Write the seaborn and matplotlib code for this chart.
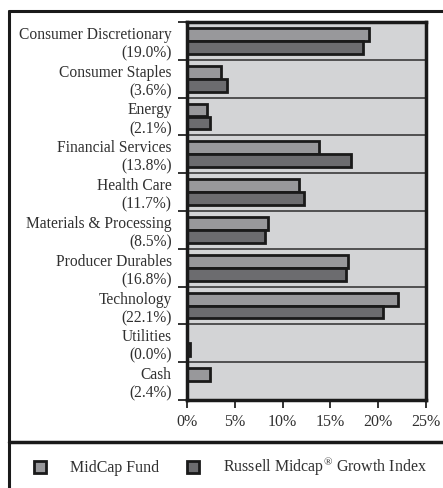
import matplotlib
matplotlib.use("Agg")
import matplotlib.pyplot as plt
from matplotlib.lines import Line2D
from matplotlib.patches import Patch
import seaborn as sns
import pandas as pd

sectors = ["Consumer Discretionary", "Consumer Staples", "Energy", "Financial Services",
           "Health Care", "Materials & Processing", "Producer Durables", "Technology",
           "Utilities", "Cash"]
fund = [19.0, 3.6, 2.1, 13.8, 11.7, 8.5, 16.8, 22.1, 0.0, 2.4]
index = [18.4, 4.2, 2.4, 17.2, 12.2, 8.2, 16.6, 20.5, 0.3, 0.0]
series = ["MidCap Fund", "Russell Midcap\u00ae Growth Index"]
xticks = [0, 5, 10, 15, 20, 25]

sns.set_theme(style="white")
plt.rcParams["font.family"] = ["Liberation Serif", "DejaVu Serif"]
plt.rcParams["mathtext.fontset"] = "custom"
plt.rcParams["mathtext.rm"] = "Liberation Serif"

df = pd.DataFrame({
    "sector": sectors * 2,
    "value": fund + index,
    "series": [series[0]] * len(sectors) + [series[1]] * len(sectors),
})

colors = {series[0]: "#98989b", series[1]: "#6c6c6f"}
text_color = "#303030"

W, H = 443, 488
fig = plt.figure(figsize=(W / 100, H / 100), dpi=100)
ax = fig.add_axes([187 / W, 1 - 400 / H, (426 - 187) / W, (400 - 22) / H])
ax.set_facecolor("#d3d4d6")

sns.barplot(data=df, y="sector", x="value", hue="series", orient="h",
            palette=colors, width=0.68, edgecolor="#1a1a1a", linewidth=2,
            ax=ax, legend=False, zorder=3)

n = len(sectors)
ax.set_xlim(0, 25)
ax.set_ylim(n - 0.5, -0.5)
ax.set_xticks(xticks)
ax.set_xticklabels([f"{t}%" for t in xticks], fontsize=11.5, color=text_color)
ax.set_yticks(range(n))
ax.set_yticklabels([f"{s}\n({v:.1f}%)" for s, v in zip(sectors, fund)],
                   fontsize=11.2, color=text_color, linespacing=1.2)
ax.set_yticks([i - 0.5 for i in range(n + 1)], minor=True)
ax.tick_params(axis="y", which="major", length=0, pad=11)
ax.tick_params(axis="y", which="minor", length=6.5, width=1.3, color="#222222", left=True)
ax.tick_params(axis="x", which="major", length=6, width=1.3, color="#222222",
               bottom=True, pad=4)
ax.grid(axis="y", which="minor", color="#3a3a3a", linewidth=1.2, zorder=1)
ax.set_xlabel("")
ax.set_ylabel("")
for sp in ax.spines.values():
    sp.set_visible(True)
    sp.set_color("#1a1a1a")
    sp.set_linewidth(2.5)
    sp.set_zorder(5)

# outer frame and divider above the legend
fig.add_artist(Line2D([9 / W, 9 / W], [0, 1 - 11 / H], color="#1a1a1a", linewidth=2.2))
fig.add_artist(Line2D([9 / W, 1], [1 - 11 / H, 1 - 11 / H], color="#1a1a1a", linewidth=2.2))
fig.add_artist(Line2D([9 / W, 1], [1 - 442 / H, 1 - 442 / H], color="#1a1a1a", linewidth=2.5))

handles = [Patch(facecolor=colors[s], edgecolor="#1a1a1a", linewidth=2) for s in series]
labels = [series[0], "Russell Midcap$^{\u00ae}$ Growth Index"]
fig.legend(handles, labels, loc="center left", bbox_to_anchor=(20 / W, 1 - 467 / H),
           ncol=2, frameon=False, fontsize=11.5, handlelength=0.75, handleheight=0.75,
           handletextpad=1.5, columnspacing=1.7, labelcolor=text_color)

fig.savefig("out.png", dpi=100)
